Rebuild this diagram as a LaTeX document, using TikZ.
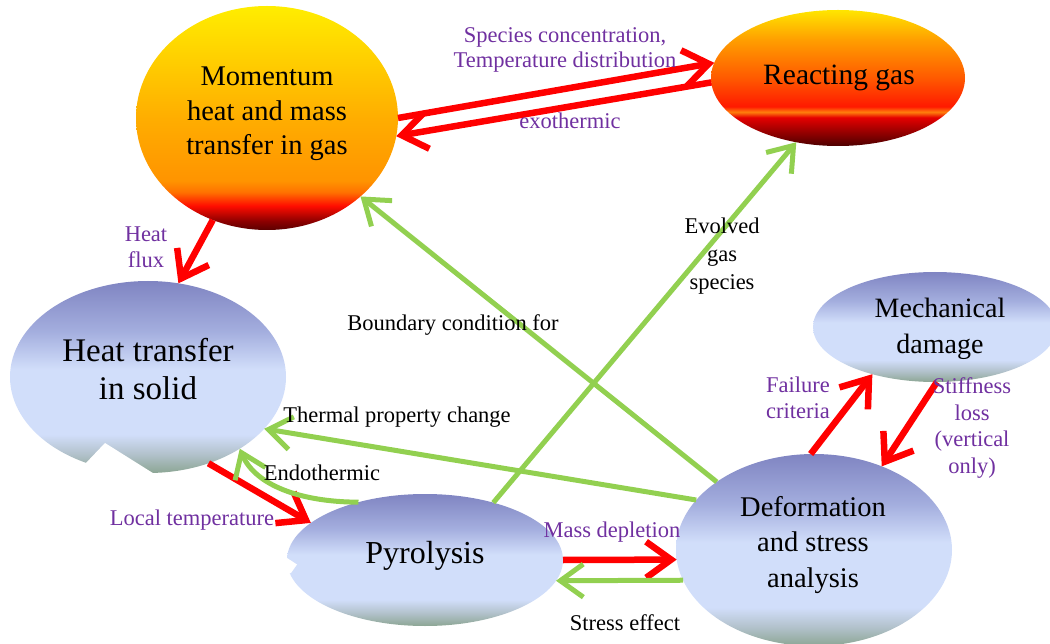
\documentclass[tikz,border=0pt]{standalone}
\usepackage{fontspec}
\setmainfont{Liberation Serif}
\usetikzlibrary{arrows.meta,shapes.geometric}
\definecolor{arrred}{HTML}{FF0000}
\definecolor{arrgreen}{HTML}{92D050}
\definecolor{lblpurple}{HTML}{7030A0}
\pgfdeclareverticalshading{gasmom}{100bp}{rgb(0bp)=(0.36,0,0); rgb(25bp)=(0.36,0,0); rgb(27bp)=(0.55,0,0); rgb(30.4bp)=(1,0.05,0); rgb(33.5bp)=(1,0.45,0); rgb(36bp)=(1,0.58,0); rgb(50bp)=(1,0.68,0); rgb(75bp)=(1,0.93,0); rgb(100bp)=(1,0.93,0)}
\pgfdeclareverticalshading{gasreact}{100bp}{rgb(0bp)=(0.3,0,0); rgb(25bp)=(0.3,0,0); rgb(33bp)=(0.75,0,0); rgb(35.5bp)=(0.9,0,0); rgb(37.5bp)=(1,0.5,0.05); rgb(39.5bp)=(1,0.1,0); rgb(50bp)=(1,0.35,0); rgb(64bp)=(1,0.62,0); rgb(75bp)=(1,0.9,0); rgb(100bp)=(1,0.9,0)}
\pgfdeclareverticalshading{solid}{100bp}{rgb(0bp)=(0.55,0.65,0.58); rgb(25bp)=(0.55,0.65,0.58); rgb(30bp)=(0.70,0.76,0.80); rgb(35bp)=(0.82,0.87,0.98); rgb(52bp)=(0.82,0.87,0.98); rgb(62bp)=(0.64,0.68,0.87); rgb(75bp)=(0.50,0.52,0.76); rgb(100bp)=(0.50,0.52,0.76)}
\begin{document}
\begin{tikzpicture}[x=1pt,y=-1pt,
  blob/.style={ellipse, inner sep=0pt, outer sep=0pt},
  ntext/.style={align=center, inner sep=0pt, text=black},
  redc/.style={line width=6.5pt, draw=arrred, -{Straight Barb[length=25pt,width=36pt]}},
  greenc/.style={line width=5pt, draw=arrgreen, -{Straight Barb[length=23pt,width=33pt]}},
  plab/.style={text=lblpurple, align=center, inner sep=0pt, font=\fontsize{22.5}{25.5}\selectfont},
  blab/.style={text=black, align=center, inner sep=0pt, font=\fontsize{22.5}{28}\selectfont},
]
\useasboundingbox (0,0) rectangle (1050,644);
% ellipses
\node[blob, shading=gasmom, minimum width=262pt, minimum height=224pt] (mom) at (267,118) {};
\node[blob, shading=gasreact, minimum width=254pt, minimum height=136pt] (rg) at (838,78) {};
\node[blob, shading=solid, minimum width=276pt, minimum height=192pt] (ht) at (148,377) {};
\node[blob, shading=solid, minimum width=276pt, minimum height=132pt] (py) at (425,560) {};
\node[blob, shading=solid, minimum width=276pt, minimum height=192pt] (dsa) at (814,550) {};
\node[blob, shading=solid, minimum width=244pt, minimum height=110pt] (md) at (935,327) {};
% notches
\fill[white] (85,464) -- (105,443) -- (156,475) -- (156,482) -- (85,482) -- cycle;
\fill[white] (284,556) -- (297,564.5) -- (291,573) -- (284,573) -- cycle;
% node texts
\node[ntext, font=\fontsize{28.5}{34.5}\selectfont] (momt) at (267,114) {Momentum\\heat and mass\\transfer in gas};
\node[ntext, font=\fontsize{29.5}{34}\selectfont] (rgt) at (839,78) {Reacting gas};
\node[ntext, font=\fontsize{33}{38}\selectfont] (htt) at (148,369) {Heat transfer\\in solid};
\node[ntext, font=\fontsize{32}{36}\selectfont] (pyt) at (425,556) {Pyrolysis};
\node[ntext, font=\fontsize{28.5}{35.5}\selectfont] (dsat) at (813,545) {Deformation\\and stress\\analysis};
\node[ntext, font=\fontsize{28}{36.5}\selectfont] (mdt) at (940,329) {Mechanical\\damage};
% connectors
\draw[redc] (mom.0) -- (rg.173);
\draw[redc] (rg.-178) -- (mom.-8);
\draw[redc] (mom.-118) -- (ht.72);
\draw[redc] (ht.-55) -- (py.162);
\draw[redc] (py.0) -- (dsa.-176);
\draw[greenc] (dsa.-167) -- (py.-9);
\draw[greenc] (py.139) .. controls (300,502) and (255,485) .. (ht.-38);
\draw[greenc] (dsa.157) -- (ht.-24);
\draw[greenc] (dsa.145) -- (mom.-40);
\draw[greenc] (py.40) -- (rg.-123);
\draw[redc] (dsa.92) -- (md.-143);
\draw[redc] (md.-88) -- (dsa.51);
% labels
\node[plab] (spec) at (565,50) {Species concentration,\\Temperature distribution};
\node[plab] (exo) at (570,121) {exothermic};
\node[plab] (hf) at (146,247) {Heat\\flux};
\node[plab] (lt) at (192,520) {Local temperature};
\node[blab] (endo) at (322,473) {Endothermic};
\node[blab] (tpc) at (397,417) {Thermal property change};
\node[blab] (bc) at (453,325) {Boundary condition for};
\node[blab] (evo) at (722,256) {Evolved\\gas\\species};
\node[plab] (mdep) at (612,532) {Mass depletion};
\node[blab] (se) at (625,623) {Stress effect};
\node[plab] (fc) at (798,398) {Failure\\criteria};
\node[plab, font=\fontsize{22.5}{26.7}\selectfont] (sl) at (972,428) {Stiffness\\loss\\(vertical\\only)};
\end{tikzpicture}
\end{document}
